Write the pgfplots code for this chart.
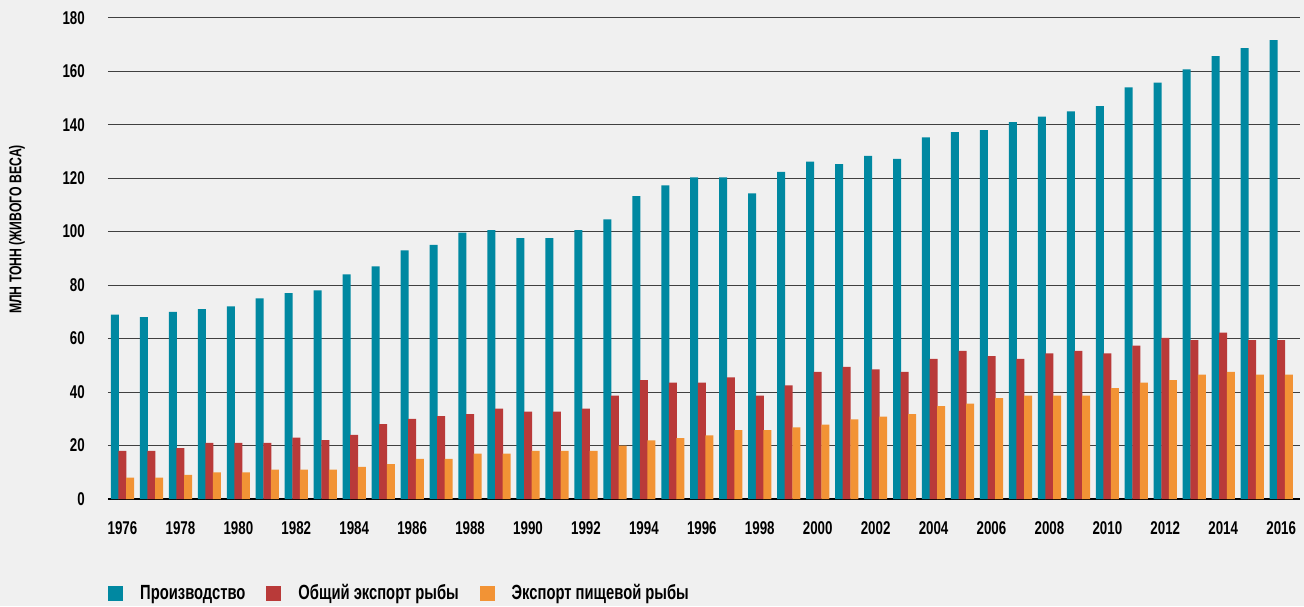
\documentclass[border=0pt]{standalone}
\usepackage{fontspec}
\setmainfont{Liberation Sans}[FakeStretch=0.72]
\usepackage{pgfplots}
\pgfplotsset{compat=1.18}
\usepackage{pgfplotstable}
\definecolor{bg}{HTML}{F0F0F0}
\definecolor{cP}{HTML}{0088A1}
\definecolor{cE}{HTML}{B93A39}
\definecolor{cF}{HTML}{F29335}
\pgfplotstableread{
year P E F
1976 69 18 8
1977 68 18 8
1978 70 19 9
1979 71 21 10
1980 72 21 10
1981 75 21 11
1982 77 23 11
1983 78 22 11
1984 84 24 12
1985 87 28 13
1986 93 30 15
1987 95 31 15
1988 99.6 31.7 17
1989 100.6 33.8 17
1990 97.6 32.7 18
1991 97.6 32.7 18
1992 100.6 33.8 18
1993 104.6 38.7 20
1994 113.3 44.5 21.9
1995 117.3 43.5 22.8
1996 120.3 43.5 23.8
1997 120.3 45.5 25.8
1998 114.3 38.7 25.8
1999 122.3 42.5 26.8
2000 126.2 47.5 27.8
2001 125.2 49.4 29.8
2002 128.3 48.5 30.8
2003 127.2 47.5 31.7
2004 135.2 52.4 34.7
2005 137.2 55.4 35.7
2006 138.0 53.4 37.7
2007 140.9 52.4 38.7
2008 143.0 54.5 38.7
2009 145.0 55.4 38.7
2010 146.9 54.5 41.5
2011 153.9 57.4 43.5
2012 155.7 60.3 44.5
2013 160.7 59.4 46.5
2014 165.6 62.2 47.5
2015 168.6 59.4 46.5
2016 171.6 59.4 46.5
}\data
\begin{document}
\begin{tikzpicture}[x=1pt,y=1pt]
\fill[bg] (0,0) rectangle (1304,606);
\begin{axis}[
  at={(108pt,107pt)}, anchor=south west,
  scale only axis, width=1192pt, height=481.3pt,
  xmin=1975.5, xmax=2016.65, ymin=0, ymax=180,
  ybar=-0.4pt, bar width=8pt,
  axis x line*=bottom, axis y line*=left,
  x axis line style={-, line width=2.5pt, black},
  y axis line style={draw=none},
  major tick length=0pt,
  xtick={1976,1978,...,2016},
  ytick={0,20,...,180},
  ymajorgrids, grid style={black!75, line width=0.9pt},
  /pgf/number format/.cd, 1000 sep={}, assume math mode=true, /pgfplots/.cd,
  tick label style={font=\bfseries\fontsize{18.5}{20}\selectfont},
  xticklabel style={inner sep=0pt, anchor=north, yshift=-22pt},
  yticklabel style={inner sep=0pt, anchor=east, xshift=-23pt},
  ylabel={МЛН ТОНН (ЖИВОГО ВЕСА)},
  ylabel style={at={(axis description cs:-0.0763,0.56)}, anchor=center, inner sep=0pt,
    font=\bfseries\fontsize{17}{18}\selectfont},
  legend columns=3,
  legend style={at={(axis description cs:0,-0.1953)}, anchor=west, draw=none, fill=none,
    inner sep=0pt, font=\bfseries\fontsize{20.5}{22}\selectfont,
    nodes={inner sep=0pt},
    /tikz/every odd column/.append style={column sep=17pt},
    /tikz/every even column/.append style={column sep=21pt}},
  legend image code/.code={\fill[#1] (0pt,-7.5pt) rectangle (15pt,7.5pt);},
]
\addplot[fill=cP, draw=none] table[x=year, y=P] {\data};
\addplot[fill=cE, draw=none] table[x=year, y=E] {\data};
\addplot[fill=cF, draw=none] table[x=year, y=F] {\data};
\legend{Производство, Общий экспорт рыбы, Экспорт пищевой рыбы}
\end{axis}
\pgfresetboundingbox
\path (0,0) rectangle (1304,606);
\end{tikzpicture}
\end{document}
